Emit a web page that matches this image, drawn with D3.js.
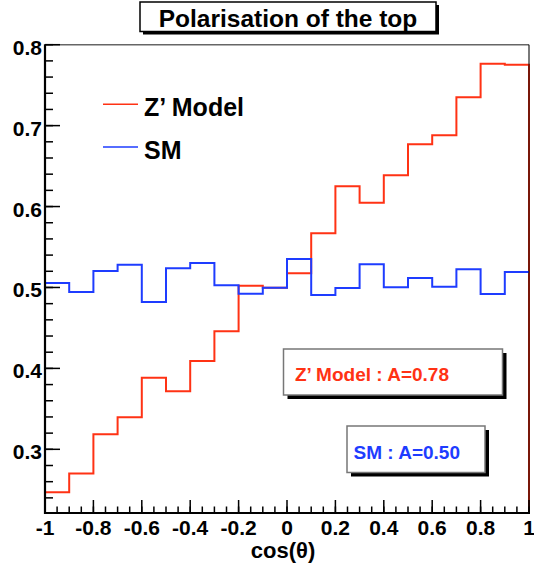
<!DOCTYPE html>
<html>
<head>
<meta charset="utf-8">
<script src="https://cdn.jsdelivr.net/npm/d3@7"></script>
<style>
  body { margin: 0; background: #fff; }
  text { font-family: "Liberation Sans", Arial, Helvetica, sans-serif; font-weight: bold; }
</style>
</head>
<body>
<div id="chart"></div>
<script>
// bin edges of cos(theta), 20 bins from -1 to 1
var bin_edges = d3.range(21).map(function (i) { return -1 + i*0.1; });
// Z' model histogram contents
var zprime_values = [0.247, 0.270, 0.3185, 0.3395, 0.3885, 0.3717, 0.409, 0.4458, 0.502, 0.4997,
                     0.5175, 0.567, 0.625, 0.6048, 0.6386, 0.6769, 0.688, 0.735, 0.7765, 0.7753];
// SM histogram contents
var sm_values = [0.5055, 0.4944, 0.5203, 0.528, 0.482, 0.5236, 0.5302, 0.5026, 0.4923, 0.4997,
                 0.5352, 0.4907, 0.4993, 0.5286, 0.5002, 0.5117, 0.501, 0.5224, 0.4919, 0.5191];
var x_major_ticks = [-1, -0.8, -0.6, -0.4, -0.2, 0, 0.2, 0.4, 0.6, 0.8, 1];
var x_tick_labels = ["-1", "-0.8", "-0.6", "-0.4", "-0.2", "0", "0.2", "0.4", "0.6", "0.8", "1"];
var y_major_ticks = [0.3, 0.4, 0.5, 0.6, 0.7, 0.8];
var y_tick_labels = ["0.3", "0.4", "0.5", "0.6", "0.7", "0.8"];
var y_range = [0.2213, 0.8];
var legend_labels = ["Z\u2019 Model", "SM"];
var box_labels = ["Z\u2019 Model : A=0.78", "SM : A=0.50"];
var title_text = "Polarisation of the top";
var x_title = "cos(\u03b8)";

var red_color = "#ff3214";
var blue_color = "#1e3cff";

var width = 534, height = 569;
var plot_left = 45, plot_right = 529, plot_top = 44.7, plot_bottom = 513;

var svg = d3.select("#chart").append("svg")
  .attr("width", width)
  .attr("height", height);

var x = d3.scaleLinear().domain([-1, 1]).range([plot_left, plot_right]);
var y = d3.scaleLinear().domain(y_range).range([plot_bottom, plot_top]);

// frame top
svg.append("line")
  .attr("x1", plot_left).attr("x2", plot_right).attr("y1", plot_top).attr("y2", plot_top)
  .attr("stroke", "#666").attr("stroke-width", 1.5);

// histogram outline points (closed = drop down to the axis at both ends)
function hist_points (values, closed) {
  var pts = closed ? [[-1, y_range[0]]] : [];
  values.forEach(function (v, i) {
    pts.push([bin_edges[i], v]);
    pts.push([bin_edges[i + 1], v]);
  });
  if (closed) pts.push([1, y_range[0]]);
  return pts;
}

var line = d3.line()
  .x(function (d) { return x(d[0]); })
  .y(function (d) { return y(d[1]); });

svg.append("path")
  .datum(hist_points(zprime_values, true))
  .attr("d", line)
  .attr("fill", "none")
  .attr("stroke", red_color)
  .attr("stroke-width", 2);

svg.append("path")
  .datum(hist_points(sm_values, false))
  .attr("d", line)
  .attr("fill", "none")
  .attr("stroke", blue_color)
  .attr("stroke-width", 2);

// right frame edge, darkening the red line under it
svg.append("line")
  .attr("x1", plot_right).attr("x2", plot_right).attr("y1", plot_top).attr("y2", plot_bottom)
  .attr("stroke", "#000").attr("stroke-opacity", 0.7).attr("stroke-width", 1.5);

// x axis
var x_axis = svg.append("g");
x_axis.append("line")
  .attr("x1", plot_left).attr("x2", plot_right + 1).attr("y1", plot_bottom).attr("y2", plot_bottom)
  .attr("stroke", "#000").attr("stroke-width", 2.2);
x_axis.selectAll(".xminor")
  .data(d3.range(41).map(function (i) { return -1 + i*0.05; }))
  .enter().append("line")
  .attr("x1", function (d) { return x(d); })
  .attr("x2", function (d) { return x(d); })
  .attr("y1", plot_bottom)
  .attr("y2", plot_bottom - 6.5)
  .attr("stroke", "#000").attr("stroke-width", 1.5);
x_axis.selectAll(".xmajor")
  .data(x_major_ticks)
  .enter().append("line")
  .attr("x1", function (d) { return x(d); })
  .attr("x2", function (d) { return x(d); })
  .attr("y1", plot_bottom)
  .attr("y2", plot_bottom - 13)
  .attr("stroke", "#000").attr("stroke-width", 1.5);
x_axis.selectAll(".xlabel")
  .data(x_major_ticks)
  .enter().append("text")
  .attr("x", function (d) { return x(d); })
  .attr("y", 535)
  .attr("text-anchor", "middle")
  .attr("font-size", 21)
  .text(function (d, i) { return x_tick_labels[i]; });
svg.append("text")
  .attr("x", 283)
  .attr("y", 558)
  .attr("text-anchor", "middle")
  .attr("font-size", 22)
  .text(x_title);

// y axis
var y_axis = svg.append("g");
y_axis.append("line")
  .attr("x1", plot_left).attr("x2", plot_left).attr("y1", plot_top - 0.5).attr("y2", plot_bottom + 1)
  .attr("stroke", "#000").attr("stroke-width", 2.2);
y_axis.selectAll(".yminor")
  .data(d3.range(30).map(function (i) { return 0.22 + i*0.02; }).filter(function (d) { return d >= y_range[0]; }))
  .enter().append("line")
  .attr("x1", plot_left)
  .attr("x2", plot_left + 8)
  .attr("y1", function (d) { return y(d); })
  .attr("y2", function (d) { return y(d); })
  .attr("stroke", "#000").attr("stroke-width", 1.5);
y_axis.selectAll(".ymajor")
  .data(y_major_ticks)
  .enter().append("line")
  .attr("x1", plot_left)
  .attr("x2", plot_left + 15)
  .attr("y1", function (d) { return y(d); })
  .attr("y2", function (d) { return y(d); })
  .attr("stroke", "#000").attr("stroke-width", 1.5);
y_axis.selectAll(".ylabel")
  .data(y_major_ticks)
  .enter().append("text")
  .attr("x", 42)
  .attr("y", function (d) { return y(d) + 10; })
  .attr("text-anchor", "end")
  .attr("font-size", 21)
  .text(function (d, i) { return y_tick_labels[i]; });

// legend
var legend_colors = [red_color, blue_color];
var legend = svg.append("g");
legend.selectAll("line")
  .data(legend_labels)
  .enter().append("line")
  .attr("x1", 103).attr("x2", 138)
  .attr("y1", function (d, i) { return 104.3 + i*42.7; })
  .attr("y2", function (d, i) { return 104.3 + i*42.7; })
  .attr("stroke", function (d, i) { return legend_colors[i]; })
  .attr("stroke-width", 1.5);
legend.selectAll("text")
  .data(legend_labels)
  .enter().append("text")
  .attr("x", 144)
  .attr("y", function (d, i) { return 116 + i*43; })
  .attr("font-size", 25)
  .attr("fill", "#000")
  .text(function (d) { return d; });

// boxes with shadow
function shadow_box (x0, y0, w, h, border, shadow) {
  svg.append("rect")
    .attr("x", x0 + shadow).attr("y", y0 + shadow)
    .attr("width", w).attr("height", h)
    .attr("fill", "#000");
  svg.append("rect")
    .attr("x", x0).attr("y", y0)
    .attr("width", w).attr("height", h)
    .attr("fill", "#fff")
    .attr("stroke", border).attr("stroke-width", 1.5);
}

shadow_box(140, 2, 296, 29.5, "#000", 3);
svg.append("text")
  .attr("x", 288)
  .attr("y", 27)
  .attr("text-anchor", "middle")
  .attr("font-size", 24.5)
  .text(title_text);

shadow_box(283.5, 349, 219, 46, "#777", 4);
svg.append("text")
  .attr("x", 295)
  .attr("y", 381)
  .attr("font-size", 19)
  .attr("fill", red_color)
  .text(box_labels[0]);

shadow_box(347, 426, 138, 46.5, "#777", 4);
svg.append("text")
  .attr("x", 353.5)
  .attr("y", 459)
  .attr("font-size", 19)
  .attr("fill", blue_color)
  .text(box_labels[1]);
</script>
</body>
</html>
